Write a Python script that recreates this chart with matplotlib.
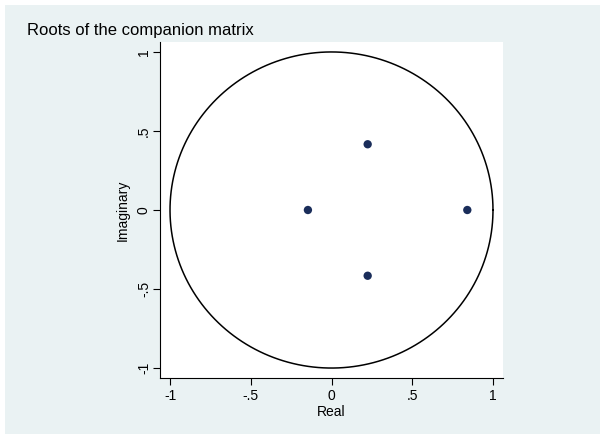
import numpy as np
import matplotlib
matplotlib.use("Agg")
import matplotlib.pyplot as plt
from matplotlib.patches import Rectangle

plt.rcParams['font.family'] = ['Liberation Sans', 'DejaVu Sans']

real_parts = [0.224, 0.224, -0.146, 0.841]
imag_parts = [0.416, -0.416, 0.0, 0.0]
ticks = [-1, -0.5, 0, 0.5, 1]
tick_labels = ['-1', '-.5', '0', '.5', '1']

bg = '#EAF2F3'
W, H = 600, 434
fig = plt.figure(figsize=(6, 4.34), dpi=100, facecolor='white')
fig.patches.append(Rectangle((5/W, 0), 1, 1 - 5/H, transform=fig.transFigure,
                             facecolor=bg, edgecolor='none', zorder=-10))
ax = fig.add_axes([160/W, 1-378/H, 343/W, 336/H])
ax.set_facecolor('white')

theta = np.linspace(0, 2*np.pi, 400)
ax.plot(np.cos(theta), np.sin(theta), color='black', lw=1.1)
ax.scatter(real_parts, imag_parts, s=36, color='#1a2d5a', zorder=3, edgecolors='none')

ax.set_xlim(-1.062, 1.062)
ax.set_ylim(-1.063, 1.063)
ax.set_xticks(ticks)
ax.set_xticklabels(tick_labels, fontsize=10)
ax.set_yticks(ticks)
ax.set_yticklabels(tick_labels, fontsize=10, rotation=90, va='center')
ax.tick_params(length=5, width=0.8, color='black')
ax.tick_params(axis='x', pad=3)
ax.tick_params(axis='y', pad=1.5)
for s in ['top', 'right']:
    ax.spines[s].set_visible(False)
for s in ['left', 'bottom']:
    ax.spines[s].set_linewidth(0.8)
ax.set_xlabel('Real', fontsize=10, labelpad=1)
ax.set_ylabel('Imaginary', fontsize=10, labelpad=5)

fig.text(27/W, 1-30/H, 'Roots of the companion matrix', fontsize=12, va='center', ha='left')

fig.savefig('out.png', dpi=100, facecolor='white')
